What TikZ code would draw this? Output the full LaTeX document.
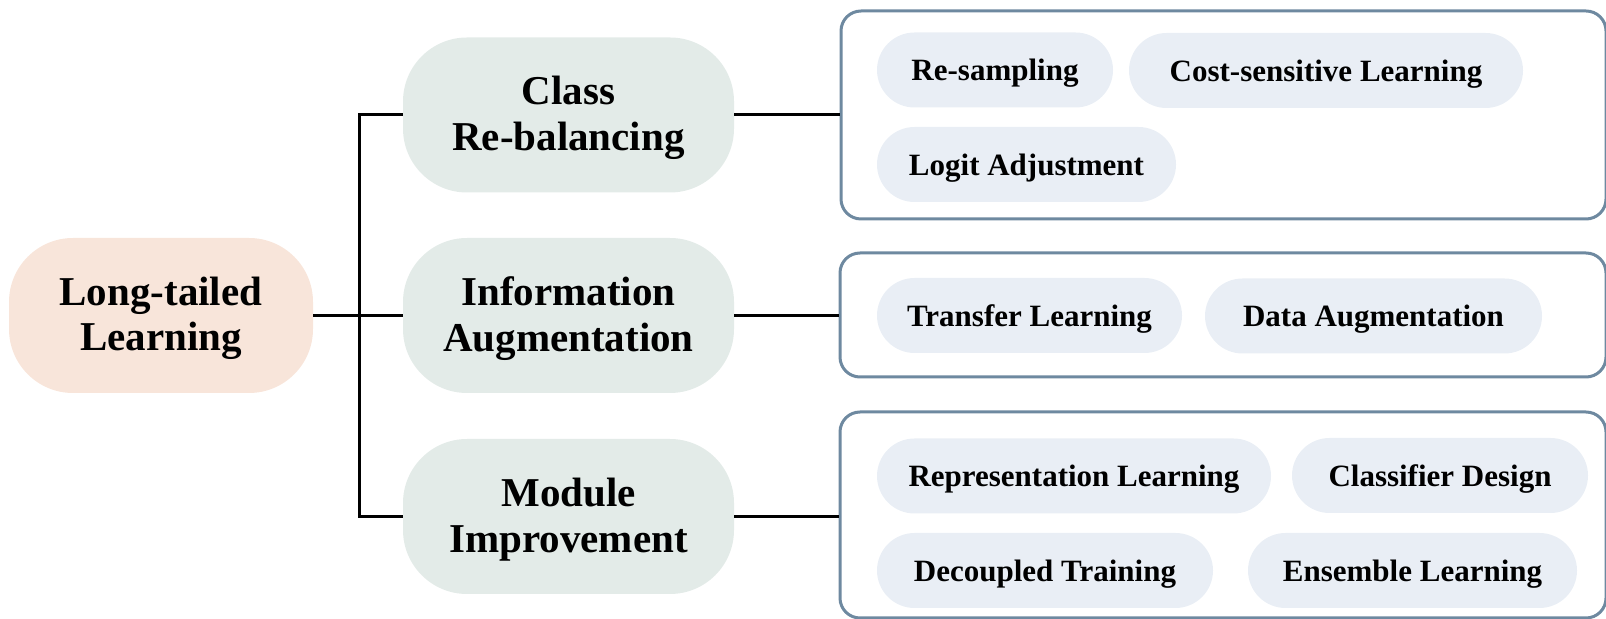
\documentclass[tikz,border=0pt]{standalone}
\usepackage{fontspec}
\setmainfont{Liberation Serif}
\usetikzlibrary{shapes.misc}

\definecolor{rootfill}{RGB}{248,229,218}
\definecolor{branchfill}{RGB}{227,235,232}
\definecolor{leaffill}{RGB}{233,238,245}
\definecolor{frameblue}{RGB}{110,137,160}

\tikzset{
  rootnode/.style={fill=rootfill, rounded corners=32pt, inner sep=0pt,
    minimum width=152pt, minimum height=77.5pt, align=center, text depth=1.5pt,
    font=\fontsize{20.5}{22.5}\selectfont\bfseries},
  branchnode/.style={fill=branchfill, rounded corners=32pt, inner sep=0pt,
    minimum width=165.5pt, minimum height=77.5pt, align=center, text depth=1.5pt,
    font=\fontsize{20.5}{22.8}\selectfont\bfseries},
  leafnode/.style={rounded rectangle, fill=leaffill, inner sep=0pt,
    text height=14pt, text depth=3pt,
    minimum height=37.5pt, font=\fontsize{15.5}{18}\selectfont\bfseries},
  groupbox/.style={draw=frameblue, line width=1.5pt, rounded corners=10pt,
    inner sep=0pt},
  wire/.style={draw=black, line width=1.5pt}
}

\begin{document}
\begin{tikzpicture}[x=0.5pt, y=-0.5pt]
\useasboundingbox (0,0) rectangle (1606,619);

% root and the three branches
\node[rootnode] (root) at (161,315.5) {Long-tailed\\Learning};
\node[branchnode] (cr) at (568.5,115) {Class\\Re-balancing};
\node[branchnode] (ia) at (568.5,315.5) {Information\\Augmentation};
\node[branchnode] (mi) at (568.5,516.5) {Module\\Improvement};

% grouping frames
\node[groupbox, minimum width=382.5pt, minimum height=104pt] (g1) at (1223.5,115) {};
\node[groupbox, minimum width=383pt, minimum height=62pt] (g2) at (1223,315) {};
\node[groupbox, minimum width=383pt, minimum height=103pt] (g3) at (1223,515) {};

% methods
\node[leafnode, minimum width=118pt] (rs) at (995,70) {Re-sampling};
\node[leafnode, minimum width=197pt] (csl) at (1326,70.5) {Cost-sensitive Learning};
\node[leafnode, minimum width=149.5pt] (la) at (1026.5,164.5) {Logit Adjustment};

\node[leafnode, minimum width=152.5pt] (tl) at (1029.5,315.5) {Transfer Learning};
\node[leafnode, minimum width=168.5pt] (da) at (1373.5,316) {Data Augmentation};

\node[leafnode, minimum width=197pt] (rl) at (1074,476) {Representation Learning};
\node[leafnode, minimum width=148pt] (cd) at (1440,475.5) {Classifier Design};
\node[leafnode, minimum width=168pt] (dt) at (1045,570.5) {Decoupled Training};
\node[leafnode, minimum width=164.5pt] (el) at (1412.5,570.5) {Ensemble Learning};

% tree connectors
\coordinate (jn) at (359,315.5);
\draw[wire] (root.east) -- (ia.west);
\draw[wire] (cr.west) -- (cr.west -| jn) -- (mi.west -| jn) -- (mi.west);
\draw[wire] (cr.east) -- (cr.east -| g1.west);
\draw[wire] (ia.east) -- (ia.east -| g2.west);
\draw[wire] (mi.east) -- (mi.east -| g3.west);
\end{tikzpicture}
\end{document}
